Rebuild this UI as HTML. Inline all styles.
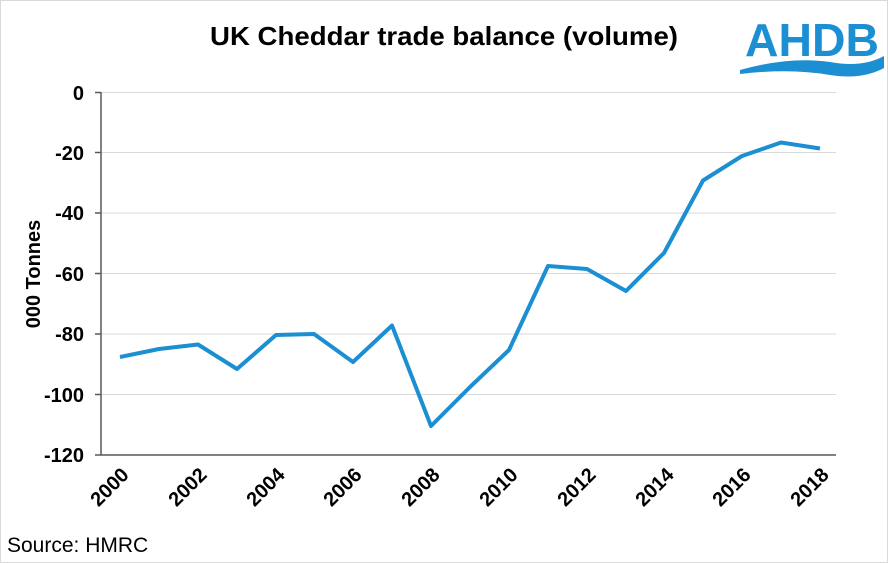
<!DOCTYPE html>
<html><head><style>
body{margin:0;background:#fff}
svg{display:block}
text{font-family:"Liberation Sans",Arial,sans-serif}
</style></head><body>
<svg width="888" height="563" viewBox="0 0 888 563">
<rect x="0.5" y="0.5" width="887" height="562" fill="#fff" stroke="#d9d9d9"/>
<text x="444" y="45" text-anchor="middle" font-size="26" font-weight="bold" fill="#000" textLength="468" lengthAdjust="spacingAndGlyphs">UK Cheddar trade balance (volume)</text>
<text x="812" y="56" text-anchor="middle" font-size="46" fill="#1b8fd2" font-weight="bold" textLength="134" lengthAdjust="spacingAndGlyphs">AHDB</text>
<path d="M740 70 Q790 56 830 62 Q862 68 884 56 L884 68 Q862 80 830 75 Q790 68 740 74 Z" fill="#1b8fd2"/>
<g stroke="#d9d9d9" stroke-width="1">
<line x1="101" y1="152.5" x2="836" y2="152.5"/>
<line x1="101" y1="213" x2="836" y2="213"/>
<line x1="101" y1="273.5" x2="836" y2="273.5"/>
<line x1="101" y1="334" x2="836" y2="334"/>
<line x1="101" y1="394.5" x2="836" y2="394.5"/>
<line x1="101" y1="92.5" x2="836" y2="92.5"/>
</g>
<g stroke="#595959" stroke-width="1.5">
<line x1="101" y1="92" x2="101" y2="455"/>
<line x1="95" y1="455" x2="836" y2="455"/>
<line x1="95" y1="92.5" x2="101" y2="92.5"/>
<line x1="95" y1="152.5" x2="101" y2="152.5"/>
<line x1="95" y1="213" x2="101" y2="213"/>
<line x1="95" y1="273.5" x2="101" y2="273.5"/>
<line x1="95" y1="334" x2="101" y2="334"/>
<line x1="95" y1="394.5" x2="101" y2="394.5"/>
</g>
<g font-size="20" font-weight="bold" text-anchor="end" fill="#000">
<text x="84" y="100">0</text>
<text x="84" y="160">-20</text>
<text x="84" y="220">-40</text>
<text x="84" y="281">-60</text>
<text x="84" y="341">-80</text>
<text x="84" y="402">-100</text>
<text x="84" y="462">-120</text>
</g>
<text transform="translate(40 274) rotate(-90)" text-anchor="middle" font-size="20" font-weight="bold">000 Tonnes</text>
<g font-size="20" font-weight="bold" text-anchor="end" fill="#000">
<text transform="translate(130 476) rotate(-45)">2000</text>
<text transform="translate(208 476) rotate(-45)">2002</text>
<text transform="translate(286 476) rotate(-45)">2004</text>
<text transform="translate(363 476) rotate(-45)">2006</text>
<text transform="translate(441 476) rotate(-45)">2008</text>
<text transform="translate(519 476) rotate(-45)">2010</text>
<text transform="translate(597 476) rotate(-45)">2012</text>
<text transform="translate(675 476) rotate(-45)">2014</text>
<text transform="translate(752 476) rotate(-45)">2016</text>
<text transform="translate(830 476) rotate(-45)">2018</text>
</g>
<polyline fill="none" stroke="#1b8fd2" stroke-width="4" stroke-linejoin="round" points="120,357 159,349 198,344.5 237,369 276,335 314,334 353,362 392,325.5 431,426 470,387 509,350 548,266 587,269 626,291 664,253 703,180.5 742,156 781,142.5 820,148.5"/>
<text x="7" y="552" font-size="21" fill="#000">Source: HMRC</text>
</svg>
</body></html>
